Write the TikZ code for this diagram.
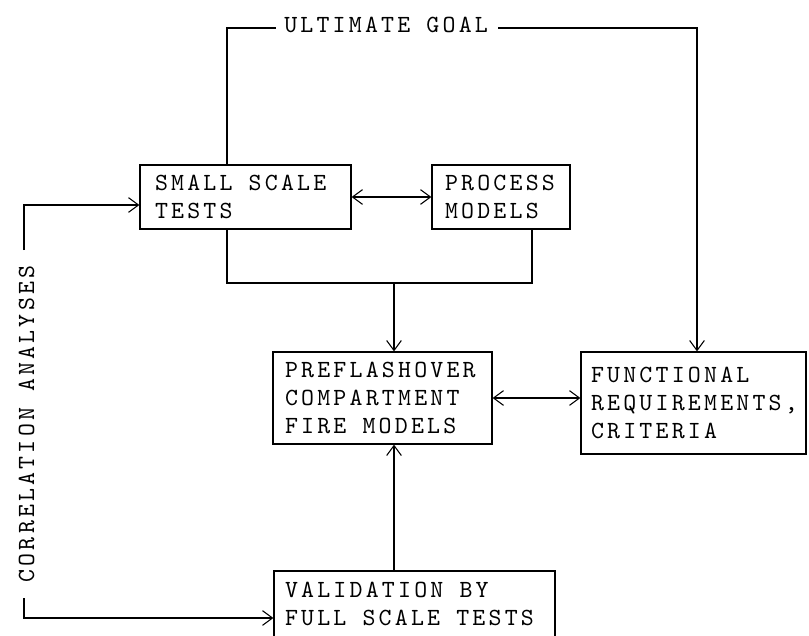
\documentclass[tikz,border=0pt]{standalone}
\usepackage{fontspec}
\usetikzlibrary{arrows.meta,calc}
\newfontfamily\twfam{lmmono10-regular.otf}[LetterSpace=13]
\newcommand{\twfont}{\fontsize{18.5pt}{21pt}\twfam}
\tikzset{
  box/.style={draw, line width=0.9pt, font=\twfont, align=left, inner ysep=0pt,
    execute at begin node={\spaceskip=0pt\relax\xspaceskip=0pt\relax}},
  conn/.style={line width=0.9pt},
  arr/.style={conn, -{Straight Barb[length=7.5pt,width=11pt,line width=0.8pt]}},
  darr/.style={conn, {Straight Barb[length=7.5pt,width=11pt,line width=0.8pt]}-{Straight Barb[length=7.5pt,width=11pt,line width=0.8pt]}},
  lbl/.style={font=\twfont, inner sep=0pt}
}
\begin{document}
\begin{tikzpicture}[x=0.75pt,y=-0.75pt]
\useasboundingbox (0,0) rectangle (809,635);
\fill[white] (0,0) rectangle (809,635);
\clip (0,0) rectangle (809,635);

\node[box, inner xsep=11.25pt, text width=135.75pt, minimum height=48pt] (small) at (245.5,197) {SMALL SCALE\\TESTS};
\node[box, inner xsep=9.75pt, text width=84pt, minimum height=48pt] (process) at (501,197) {PROCESS\\MODELS};
\node[box, inner xsep=9pt, text width=146.25pt, minimum height=69pt] (pre) at (382.5,398) {PREFLASHOVER\\COMPARTMENT\\FIRE MODELS};
\node[box, inner xsep=7.5pt, text width=153.75pt, minimum height=76.5pt] (func) at (693.5,403) {FUNCTIONAL\\REQUIREMENTS,\\CRITERIA};
\node[box, inner xsep=8.25pt, text width=194.25pt, minimum height=49.5pt] (valid) at (414.5,604) {VALIDATION BY\\FULL SCALE TESTS};

\node[lbl, anchor=base west] (goal) at (284,33) {ULTIMATE GOAL};
\node[lbl, anchor=base, rotate=90] (corr) at (34,424) {CORRELATION ANALYSES};

\coordinate (t1) at (227,28);
\coordinate (gl) at (276,28);
\coordinate (gr) at (498,28);
\coordinate (t2) at (697,28);
\coordinate (m1) at (227,283);
\coordinate (m0) at (394,283);
\coordinate (m2) at (532,283);
\coordinate (c1) at (24,205);
\coordinate (c2) at (24,250);
\coordinate (c3) at (24,598);
\coordinate (c4) at (24,618);

\draw[conn] (t1 |- small.north) -- (t1) -- (gl);
\draw[arr] (gr) -- (t2) -- (t2 |- func.north);
\draw[darr] (small.east) -- (process.west);
\draw[conn] (m1 |- small.south) -- (m1) -- (m2) -- (m2 |- process.south);
\draw[arr] (m0) -- (m0 |- pre.north);
\draw[darr] (pre.east) -- (pre.east -| func.west);
\draw[arr] (valid.north -| m0) -- (pre.south -| m0);
\draw[arr] (c2) -- (c1) -- (c1 -| small.west);
\draw[arr] (c3) -- (c4) -- (c4 -| valid.west);
\end{tikzpicture}
\end{document}
